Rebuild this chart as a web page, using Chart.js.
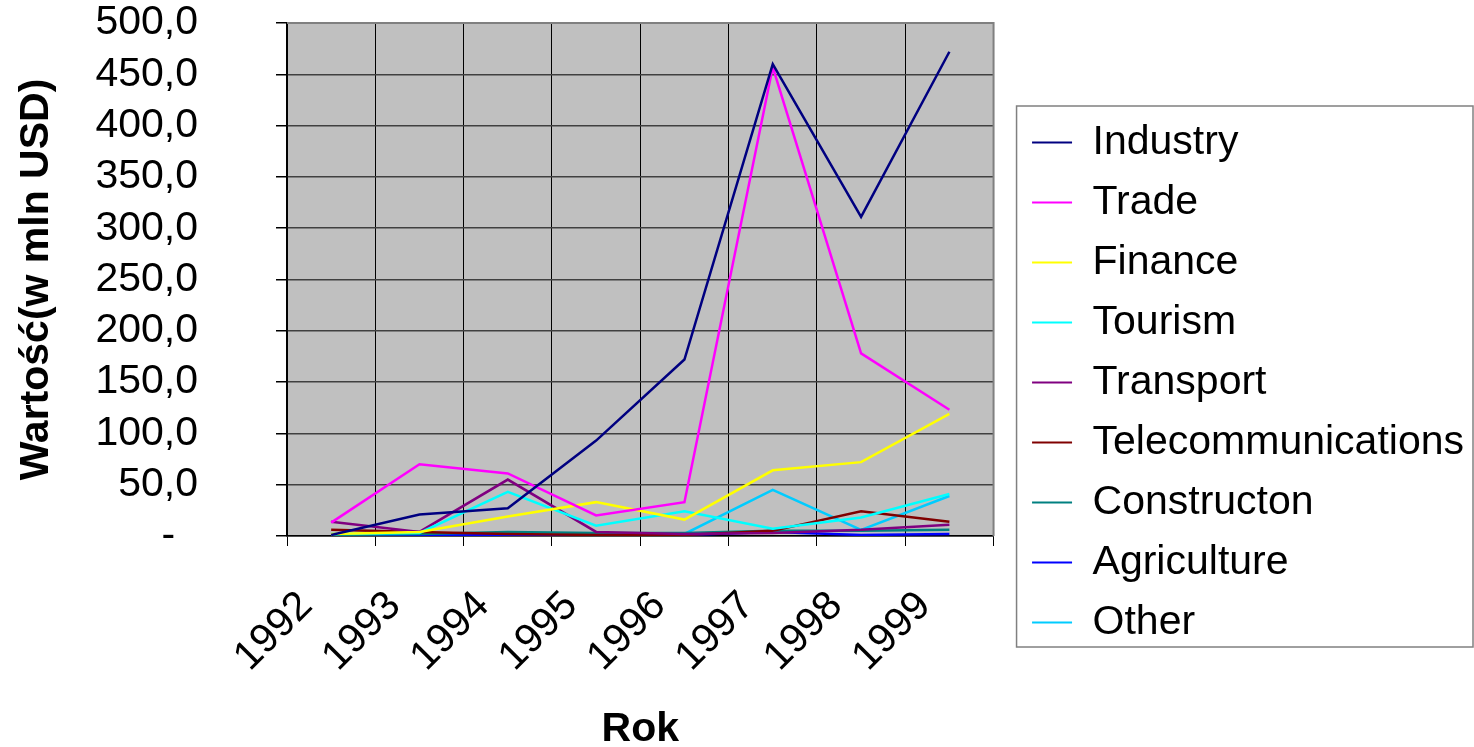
<!DOCTYPE html>
<html>
<head>
<meta charset="utf-8">
<script src="https://cdn.jsdelivr.net/npm/chart.js@4.4.1/dist/chart.umd.min.js"></script>
<style>
  html, body { margin: 0; padding: 0; background: #ffffff; }
  #wrap { width: 1474px; height: 747px; position: relative; }
</style>
</head>
<body>
<div id="wrap"><canvas id="fdi-chart"></canvas></div>
<script>
// ===== DATA =====
const years = ['1992', '1993', '1994', '1995', '1996', '1997', '1998', '1999']

const industry = [1, 21, 27, 93, 172, 460, 311, 472]
const trade = [13, 70, 61, 20, 33, 457, 178, 123]
const finance = [2, 4, 19, 33, 16, 64, 72, 119]
const tourism = [2, 3, 43, 10, 24, 7, 18, 41]
const transport = [14, 4, 55, 4, 2, 3, 6, 11]
const telecommunications = [6, 4, 2, 1, 1, 5, 24, 14]
const construction = [1, 2, 4, 3, 3, 5, 5, 6]
const agriculture = [0.5, 1, 1, 1, 1, 4, 1, 2]
const other = [1, 1, 1, 1, 2, 45, 6, 39]

const seriesNames = ['Industry', 'Trade', 'Finance', 'Tourism', 'Transport',
  'Telecommunications', 'Constructon', 'Agriculture', 'Other']
const seriesValues = [industry, trade, finance, tourism, transport,
  telecommunications, construction, agriculture, other]
const seriesColors = ['#000080', '#FF00FF', '#FFFF00', '#00FFFF', '#800080',
  '#800000', '#008080', '#0000FF', '#00CCFF']

const FONT = 'Liberation Sans'

// ===== PLUGINS =====
// grey plot area + grey top/right border
const plotArea = {
  id: 'plotArea',
  beforeDraw(chart) {
    const { ctx, chartArea: a } = chart
    ctx.save()
    ctx.fillStyle = '#C0C0C0'
    ctx.fillRect(a.left, a.top, a.right - a.left, a.bottom - a.top)
    ctx.restore()
  },
  afterDatasetsDraw(chart) {
    const { ctx, chartArea: a } = chart
    ctx.save()
    ctx.strokeStyle = '#808080'
    ctx.lineWidth = 2
    ctx.beginPath()
    ctx.moveTo(a.left, a.top)
    ctx.lineTo(a.right, a.top)
    ctx.lineTo(a.right, a.bottom)
    ctx.stroke()
    ctx.restore()
  },
}

// frame round the legend
const legendFrame = {
  id: 'legendFrame',
  afterDraw(chart) {
    const lg = chart.legend
    const boxes = lg.legendHitBoxes
    if (!boxes || !boxes.length) return
    const first = boxes[0]
    const last = boxes[boxes.length - 1]
    const left = lg.left + 3.5
    const top = first.top - 16
    const bottom = last.top + last.height + 4
    const ctx = chart.ctx
    ctx.save()
    ctx.strokeStyle = '#808080'
    ctx.lineWidth = 1.5
    ctx.strokeRect(left, top, chart.width - 1 - left, bottom - top)
    ctx.restore()
  },
}

// ===== CHART =====
const datasets = seriesNames.map((name, i) => ({
  label: name,
  data: seriesValues[i],
  borderColor: seriesColors[i],
  backgroundColor: seriesColors[i],
  borderWidth: 2.5,
  pointRadius: 0,
  tension: 0,
}))

new Chart(document.getElementById('fdi-chart'), {
  type: 'line',
  data: { labels: years, datasets: datasets },
  options: {
    responsive: true,
    maintainAspectRatio: false,
    animation: false,
    layout: { padding: { top: 18, left: 0, right: 0, bottom: 0 } },
    scales: {
      x: {
        offset: true,
        grid: {
          offset: true,
          color: '#000000',
          lineWidth: 1,
          tickLength: 10,
          tickColor: '#000000',
        },
        border: { color: '#000000', width: 1.5 },
        ticks: {
          color: '#000000',
          font: { family: FONT, size: 41 },
          minRotation: 45,
          maxRotation: 45,
          padding: 36,
          labelOffset: -25,
        },
        title: {
          display: true,
          text: 'Rok',
          color: '#000000',
          font: { family: FONT, size: 41, weight: 'bold' },
          padding: { top: 0, bottom: -7.4 },
        },
        afterFit: (s) => {
          s.height = 211
        },
      },
      y: {
        min: 0,
        max: 500,
        grid: {
          color: '#404040',
          lineWidth: 1.5,
          tickLength: 11,
          tickColor: '#000000',
        },
        border: { color: '#000000', width: 1.5 },
        ticks: {
          stepSize: 50,
          autoSkip: false,
          color: '#000000',
          font: { family: FONT, size: 41 },
          padding: 78,
          callback: (v) => (v === 0 ? '-  ' : v.toFixed(1).replace('.', ',')),
        },
        title: {
          display: true,
          text: 'Wartość(w mln USD)',
          color: '#000000',
          font: { family: FONT, size: 41, weight: 'bold' },
          padding: { top: 12, bottom: 34.2 },
        },
        afterFit: (s) => {
          s.width = 287
          s.paddingTop = 23
          s.paddingBottom = 0
        },
      },
      // empty strip between the plot and the legend
      ySpacer: {
        type: 'linear',
        position: 'right',
        display: true,
        grid: { display: false, drawTicks: false },
        border: { display: false },
        ticks: { display: false },
        afterFit: (s) => {
          s.width = 19.5
        },
      },
    },
    plugins: {
      legend: {
        position: 'right',
        maxWidth: 600,
        labels: {
          color: '#000000',
          font: { family: FONT, size: 41 },
          boxWidth: 40,
          boxHeight: 2,
          padding: 19,
          generateLabels: (chart) =>
            Chart.defaults.plugins.legend.labels
              .generateLabels(chart)
              .map((l) => ({ ...l, lineWidth: 0 })),
        },
      },
      tooltip: { enabled: false },
    },
  },
  plugins: [plotArea, legendFrame],
})
</script>
</body>
</html>
